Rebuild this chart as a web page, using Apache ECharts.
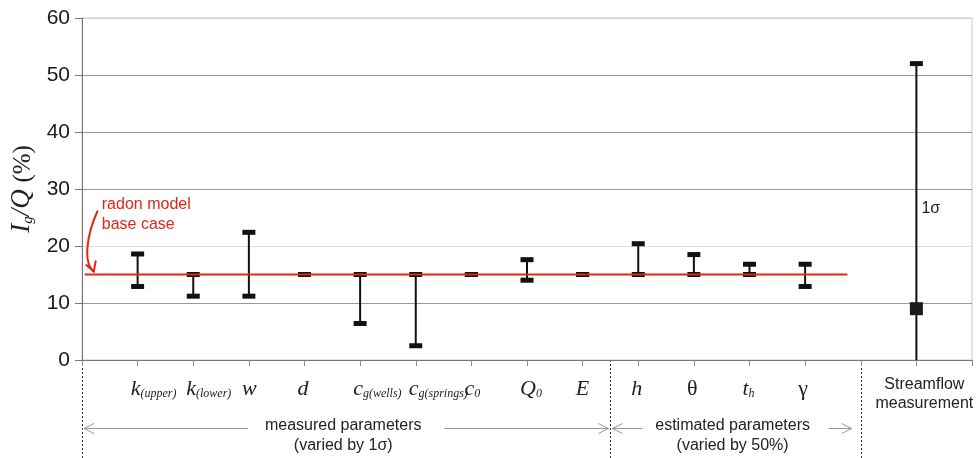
<!DOCTYPE html>
<html><head><meta charset="utf-8">
<script src="https://cdn.jsdelivr.net/npm/echarts@6/dist/echarts.min.js"></script>
<style>html,body{margin:0;padding:0;background:#fff}#c{width:977px;height:458px}</style>
</head><body><div id="c"></div>
<script>
// ---- data ----
const paramPositions = [1, 2, 3, 4, 5, 6, 7, 8, 9, 10, 11, 12, 13];
const paramMain = ['k', 'k', 'w', 'd', 'c', 'c', 'c', 'Q', 'E', 'h', 'θ', 't', 'γ'];
const paramSub = ['(upper)', '(lower)', '', '', 'g(wells)', 'g(springs)', '0', '0', '', '', '', 'h', ''];
const paramItalic = [true, true, true, true, true, true, true, true, true, true, false, true, false];
const lowValues = [12.9, 11.2, 11.2, 15, 6.4, 2.5, 15, 14.0, 15, 15, 15, 15, 12.9];
const highValues = [18.6, 15, 22.4, 15, 15, 15, 15, 17.6, 15, 20.4, 18.5, 16.8, 16.8];
const baseCase = 15;
const baseLineStart = 0.05;
const baseLineEnd = 13.76;
const streamflowPosition = 15;
const streamflowValue = 9;
const streamflowLow = 0;
const streamflowHigh = 52;
const yTicks = [0, 10, 20, 30, 40, 50, 60];
const groupBoundaries = [0, 9.5, 14];
const groupTitles = ['measured parameters', 'estimated parameters'];
const groupSubtitles = ['(varied by 1σ)', '(varied by 50%)'];

// ---- chart ----
const chart = echarts.init(document.getElementById('c'), null, {renderer: 'canvas'});

const barData = paramPositions.map((p, i) => [p, lowValues[i], highValues[i], 1]);
barData.push([streamflowPosition, streamflowLow, streamflowHigh, 0]);

function renderBar(params, api) {
  const x = api.value(0), lo = api.value(1), hi = api.value(2), capLo = api.value(3);
  const pLo = api.coord([x, lo]), pHi = api.coord([x, hi]);
  const ch = [
    {type: 'line', shape: {x1: pLo[0], y1: pLo[1], x2: pHi[0], y2: pHi[1]}, style: {stroke: '#111', lineWidth: 2}},
    {type: 'rect', shape: {x: pHi[0] - 6.5, y: pHi[1] - 2.5, width: 13, height: 5}, style: {fill: '#111'}}
  ];
  if (capLo) ch.push({type: 'rect', shape: {x: pLo[0] - 6.5, y: pLo[1] - 2.5, width: 13, height: 5}, style: {fill: '#111'}});
  return {type: 'group', children: ch};
}

const option = {
  animation: false,
  backgroundColor: '#fff',
  grid: {left: 82, right: 5, top: 18, bottom: 98, show: true, borderColor: '#c8c8c8', borderWidth: 1,
    containLabel: false, outerBoundsMode: 'none'},
  xAxis: {
    type: 'value', min: 0, max: 16, interval: 1,
    axisLine: {lineStyle: {color: '#777', width: 1}},
    axisTick: {show: true, length: 6, lineStyle: {color: '#888'}},
    axisLabel: {show: false},
    splitLine: {show: false}
  },
  yAxis: {
    type: 'value', min: yTicks[0], max: yTicks[yTicks.length - 1], interval: 10,
    axisLine: {show: true, lineStyle: {color: '#777'}},
    axisTick: {show: true, length: 7, lineStyle: {color: '#777'}},
    axisLabel: {fontFamily: 'Liberation Sans, Arial', fontSize: 21, color: '#1a1a1a', margin: 12},
    splitLine: {show: true, lineStyle: {color: ['#888', '#999', '#ddd', '#999', '#999', '#999', '#ccc'], width: 1}},
    name: '{i|I}{s|g}{i|/Q }{n|(%)}',
    nameLocation: 'middle', nameGap: 46, nameRotate: 90,
    nameTextStyle: {
      rich: {
        i: {fontFamily: 'Liberation Serif, Times New Roman', fontStyle: 'italic', fontSize: 27, color: '#222', verticalAlign: 'bottom', lineHeight: 28},
        s: {fontFamily: 'Liberation Serif, Times New Roman', fontStyle: 'italic', fontSize: 15, color: '#222', verticalAlign: 'bottom', lineHeight: 22},
        n: {fontFamily: 'Liberation Serif, Times New Roman', fontSize: 25, color: '#222', verticalAlign: 'bottom', lineHeight: 28}
      }
    }
  },
  series: [
    {type: 'custom', renderItem: renderBar, data: barData, z: 3, silent: true},
    {type: 'scatter', data: [[streamflowPosition, streamflowValue]], symbol: 'rect', symbolSize: 13,
      itemStyle: {color: '#1a1a1a', opacity: 1}, z: 4, silent: true},
    {type: 'line', data: [[baseLineStart, baseCase], [baseLineEnd, baseCase]], symbol: 'none',
      lineStyle: {color: '#e3241b', width: 2}, z: 5, silent: true}
  ]
};
chart.setOption(option);

// ---- annotations positioned from the axes ----
const px = (x, y) => chart.convertToPixel({gridIndex: 0}, [x, y]);
const y0 = px(0, 0)[1];
const g = [];
const serif = 'Liberation Serif, Times New Roman';
const sans = 'Liberation Sans, Arial';

// category labels
paramPositions.forEach((p, i) => {
  const x = px(p, 0)[0];
  const it = paramItalic[i] ? 'italic' : 'normal';
  const text = paramSub[i] ? '{m|' + paramMain[i] + '}{s|' + paramSub[i] + '}' : '{m|' + paramMain[i] + '}';
  g.push({type: 'text', x: x - 7, y: y0 + 16, style: {
    text: text, x: 0, y: 0, textAlign: 'left', textVerticalAlign: 'top',
    rich: {
      m: {fontFamily: serif, fontStyle: it, fontSize: 22, fill: '#222', verticalAlign: 'bottom', lineHeight: 24},
      s: {fontFamily: serif, fontStyle: 'italic', fontSize: 12, fill: '#222', verticalAlign: 'bottom', lineHeight: 17}
    }
  }});
});

// streamflow label
const sx = px(streamflowPosition, 0)[0];
g.push({type: 'text', x: sx + 8, y: y0 + 15, style: {text: 'Streamflow\nmeasurement', textAlign: 'center', font: '16px ' + sans, fill: '#222', lineHeight: 19}});

// 1 sigma
const sig = px(streamflowPosition, 27);
g.push({type: 'text', x: sig[0] + 5, y: sig[1] - 6, style: {text: '1σ', font: '16px ' + sans, fill: '#222'}});

// group separators (dotted)
groupBoundaries.forEach(b => {
  const x = Math.round(px(b, 0)[0]) + 0.5;
  g.push({type: 'line', shape: {x1: x, y1: y0, x2: x, y2: 458}, style: {stroke: '#333', lineWidth: 1, lineDash: [2, 2]}});
});

// group titles with arrows
function arrowHead(x, y, dir) {
  return {type: 'polyline', shape: {points: [[x + dir * 10, y - 5], [x, y], [x + dir * 10, y + 5]]}, style: {stroke: '#999', lineWidth: 1, fill: null}};
}
const gapHalf = [98, 93];
for (let k = 0; k < 2; k++) {
  const xa = px(groupBoundaries[k], 0)[0] + 2;
  const xb = (k === 0 ? px(groupBoundaries[k + 1], 0)[0] - 2 : px(groupBoundaries[k + 1], 0)[0] - 9);
  const xc = (px(groupBoundaries[k], 0)[0] + px(groupBoundaries[k + 1], 0)[0]) / 2;
  const ya = y0 + 68.5;
  g.push({type: 'line', shape: {x1: xa, y1: ya, x2: xc - gapHalf[k], y2: ya}, style: {stroke: '#999', lineWidth: 1}});
  g.push({type: 'line', shape: {x1: xc + gapHalf[k], y1: ya, x2: xb, y2: ya}, style: {stroke: '#999', lineWidth: 1}});
  g.push(arrowHead(xa, ya, 1));
  g.push(arrowHead(xb, ya, -1));
  g.push({type: 'text', x: xc - 3, y: y0 + 56, style: {text: groupTitles[k] + '\n' + groupSubtitles[k], textAlign: 'center', font: '16px ' + sans, fill: '#222', lineHeight: 20}});
}

// radon model base case annotation
const rb = px(0.05, baseCase);
g.push({type: 'text', x: rb[0] + 17, y: rb[1] - 80, style: {text: 'radon model\nbase case', font: '16px ' + sans, fill: '#e3241b', lineHeight: 20}});
g.push({type: 'bezierCurve', shape: {x1: rb[0] + 13, y1: rb[1] - 64, cpx1: rb[0] + 2, cpy1: rb[1] - 40, cpx2: rb[0] - 2, cpy2: rb[1] - 12, x2: rb[0] + 9, y2: rb[1] - 3},
  style: {stroke: '#e3241b', lineWidth: 2, fill: null}});
g.push({type: 'polyline', shape: {points: [[rb[0] + 1, rb[1] - 10], [rb[0] + 9, rb[1] - 3], [rb[0] + 11, rb[1] - 14]]}, style: {stroke: '#e3241b', lineWidth: 2, fill: null}});

chart.setOption({graphic: {elements: g}});
</script>
</body></html>
